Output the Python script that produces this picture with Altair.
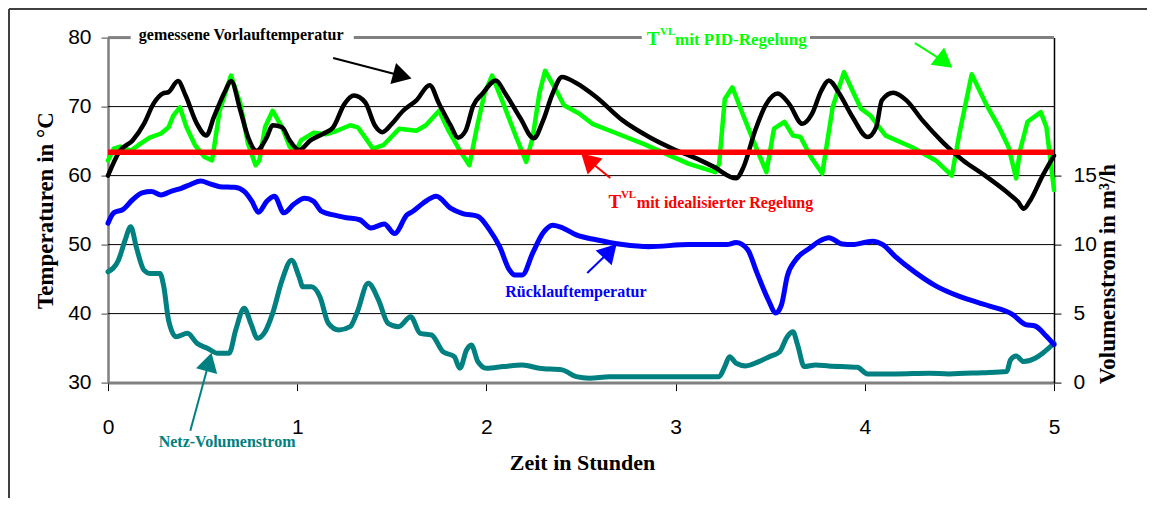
import altair as alt
import pandas as pd

# ---------------- data (hours, value) ----------------
vorlauf_gemessen = [
    (0.00, 60.0), (0.063, 63.6), (0.13, 65.1), (0.19, 67.5), (0.24, 70.4), (0.29, 71.9),
    (0.32, 72.1), (0.37, 73.7), (0.41, 71.6), (0.47, 67.5), (0.52, 65.8), (0.56, 68.5),
    (0.62, 72.3), (0.65, 73.7), (0.70, 69.4), (0.74, 65.6), (0.785, 63.6), (0.84, 65.6),
    (0.87, 67.3), (0.92, 67.0), (0.96, 65.1), (1.01, 63.7), (1.07, 65.1), (1.14, 66.1),
    (1.19, 67.0), (1.25, 70.4), (1.30, 71.6), (1.36, 70.6), (1.41, 67.3), (1.45, 66.3),
    (1.50, 67.5), (1.56, 69.4), (1.63, 70.9), (1.70, 73.1), (1.75, 70.4), (1.81, 67.3),
    (1.85, 65.5), (1.89, 66.5), (1.93, 70.1), (1.98, 71.9), (2.05, 73.8), (2.10, 71.9),
    (2.18, 68.3), (2.25, 65.4), (2.30, 68.0), (2.35, 71.9), (2.40, 74.3), (2.47, 73.5),
    (2.58, 71.4), (2.72, 68.0), (2.86, 65.6), (2.985, 63.9), (3.10, 62.6), (3.20, 61.3),
    (3.32, 59.6), (3.36, 61.3), (3.42, 66.5), (3.48, 70.4), (3.54, 71.9), (3.60, 70.4),
    (3.67, 67.5), (3.72, 68.9), (3.77, 72.3), (3.81, 73.8), (3.865, 71.9), (3.935, 68.5),
    (4.015, 65.6), (4.06, 67.0), (4.09, 70.9), (4.15, 72.0), (4.22, 70.9), (4.305, 68.0),
    (4.41, 64.9), (4.52, 62.2), (4.62, 60.3), (4.76, 57.4), (4.81, 56.2), (4.84, 55.2),
    (4.87, 56.2), (4.94, 60.0), (5.00, 62.9),
]

vorlauf_pid = [
    (0.00, 62.2), (0.03, 63.9), (0.065, 64.2), (0.12, 63.6), (0.17, 64.6), (0.22, 65.5),
    (0.28, 66.1), (0.32, 67.0), (0.345, 68.7), (0.38, 69.9), (0.415, 67.0), (0.46, 64.4),
    (0.51, 62.7), (0.55, 62.2), (0.59, 69.4), (0.65, 74.5), (0.70, 70.4), (0.74, 64.6),
    (0.78, 61.5), (0.80, 62.2), (0.83, 67.0), (0.87, 69.4), (0.92, 67.0), (0.96, 64.2),
    (0.99, 63.4), (1.02, 65.1), (1.085, 66.2), (1.155, 66.0), (1.21, 66.5), (1.28, 67.3),
    (1.32, 67.0), (1.37, 65.1), (1.40, 63.9), (1.455, 64.4), (1.54, 66.8), (1.63, 66.5),
    (1.68, 67.3), (1.75, 69.4), (1.80, 66.5), (1.86, 63.6), (1.91, 61.5), (1.95, 67.0),
    (1.99, 71.9), (2.03, 74.5), (2.09, 70.4), (2.15, 66.1), (2.21, 62.0), (2.245, 65.6),
    (2.28, 71.9), (2.31, 75.2), (2.37, 72.3), (2.41, 70.2), (2.49, 69.0), (2.56, 67.5),
    (2.69, 66.1), (2.83, 64.6), (2.97, 62.9), (3.07, 61.7), (3.21, 60.5), (3.23, 61.7),
    (3.26, 71.1), (3.30, 72.8), (3.355, 68.9), (3.425, 64.1), (3.48, 60.5), (3.52, 66.8),
    (3.575, 67.8), (3.62, 65.8), (3.66, 65.6), (3.715, 62.7), (3.775, 60.3), (3.83, 69.9),
    (3.89, 75.0), (3.935, 72.3), (3.98, 69.7), (4.03, 68.7), (4.11, 65.8), (4.25, 64.1),
    (4.375, 62.2), (4.46, 60.0), (4.50, 66.1), (4.565, 74.7), (4.64, 70.4), (4.71, 67.0),
    (4.76, 64.1), (4.80, 59.6), (4.82, 63.6), (4.86, 67.8), (4.93, 69.2), (4.96, 67.0),
    (5.00, 57.9),
]

vorlauf_ideal = 63.4

ruecklauf = [
    (0.00, 53.1), (0.03, 54.6), (0.08, 55.1), (0.13, 56.5), (0.18, 57.5), (0.23, 57.7),
    (0.28, 57.2), (0.34, 57.8), (0.39, 58.2), (0.435, 58.7), (0.49, 59.2), (0.54, 58.8),
    (0.59, 58.4), (0.67, 58.3), (0.72, 57.7), (0.76, 56.3), (0.795, 54.7), (0.84, 56.3),
    (0.88, 57.0), (0.93, 54.6), (0.98, 55.8), (1.04, 56.7), (1.085, 56.3), (1.13, 54.8),
    (1.19, 54.3), (1.26, 53.9), (1.33, 53.6), (1.39, 52.4), (1.46, 53.0), (1.515, 51.6),
    (1.58, 54.3), (1.61, 54.8), (1.665, 56.0), (1.735, 57.0), (1.81, 55.3), (1.875, 54.5),
    (1.955, 54.1), (2.015, 52.2), (2.07, 49.7), (2.12, 46.4), (2.15, 45.6), (2.19, 45.6),
    (2.245, 48.8), (2.30, 51.7), (2.35, 52.8), (2.405, 52.4), (2.475, 51.4), (2.58, 50.7),
    (2.72, 50.0), (2.86, 49.7), (3.07, 50.0), (3.27, 50.0), (3.32, 50.3), (3.38, 49.3),
    (3.43, 45.9), (3.49, 42.0), (3.53, 40.1), (3.56, 41.3), (3.59, 45.4), (3.635, 47.8),
    (3.71, 49.5), (3.76, 50.5), (3.81, 51.0), (3.88, 50.1), (3.935, 50.0), (4.04, 50.5),
    (4.095, 50.0), (4.16, 48.3), (4.27, 45.9), (4.37, 44.1), (4.50, 42.5), (4.60, 41.6),
    (4.66, 41.1), (4.78, 39.9), (4.85, 38.4), (4.90, 38.2), (4.96, 36.7), (5.00, 35.5),
]

netz_volumenstrom = [
    (0.00, 8.03), (0.055, 8.87), (0.09, 10.3), (0.12, 11.3), (0.15, 9.8), (0.19, 8.15),
    (0.225, 7.9), (0.275, 7.9), (0.295, 6.94), (0.32, 4.53), (0.36, 3.33), (0.42, 3.57),
    (0.47, 2.85), (0.525, 2.49), (0.58, 2.13), (0.64, 2.13), (0.675, 3.81), (0.72, 5.38),
    (0.755, 4.29), (0.79, 3.21), (0.83, 3.69), (0.87, 5.02), (0.92, 7.43), (0.97, 8.87),
    (1.01, 7.66), (1.03, 6.94), (1.075, 6.94), (1.12, 6.22), (1.165, 4.29), (1.22, 3.81),
    (1.28, 4.05), (1.315, 5.02), (1.375, 7.19), (1.43, 5.98), (1.48, 4.29), (1.535, 4.05),
    (1.60, 4.77), (1.65, 3.57), (1.71, 3.45), (1.77, 2.24), (1.83, 1.88), (1.86, 1.04),
    (1.895, 2.36), (1.92, 2.73), (1.955, 1.52), (2.00, 1.04), (2.09, 1.16), (2.19, 1.28),
    (2.28, 1.04), (2.40, 0.92), (2.475, 0.43), (2.545, 0.32), (2.65, 0.43), (3.07, 0.43),
    (3.23, 0.43), (3.26, 1.16), (3.285, 1.88), (3.32, 1.40), (3.37, 1.21), (3.44, 1.52),
    (3.495, 1.88), (3.55, 2.24), (3.59, 3.33), (3.62, 3.69), (3.645, 2.73), (3.68, 1.16),
    (3.74, 1.28), (3.81, 1.21), (3.96, 1.11), (4.015, 0.63), (4.165, 0.63), (4.34, 0.68),
    (4.445, 0.63), (4.62, 0.72), (4.75, 0.80), (4.77, 1.64), (4.80, 1.93), (4.84, 1.52),
    (4.90, 1.76), (4.94, 2.13), (5.00, 2.85),
]

x_ticks = [0, 1, 2, 3, 4, 5]
temp_ticks = [30, 40, 50, 60, 70, 80]
vol_ticks = [0, 5, 10, 15]
grid_temps = [40, 50, 60, 70]

# ---------------- annotation layout ----------------
top_line_segments = [(0.0, 0.12), (1.299, 2.821), (3.71, 5.0)]
labels = [
    ("gemessene Vorlauftemperatur", 0.163, 79.58, "#000000", 16),
    ("T", 2.848, 78.93, "#00FF00", 19),
    ("VL", 2.918, 80.38, "#00FF00", 11),
    ("mit PID-Regelung", 2.997, 78.93, "#00FF00", 17),
    ("T", 2.645, 55.27, "#FF0000", 19),
    ("VL", 2.711, 56.72, "#FF0000", 11),
    ("mit idealisierter Regelung", 2.795, 55.27, "#FF0000", 16),
    ("Rücklauftemperatur", 2.100, 42.34, "#0000FF", 16),
    ("Netz-Volumenstrom", 0.268, 20.61, "#008080", 16),
]
arrows = [  # tail h, tail T, head h, head T, head angle, colour
    (1.19, 77.05, 1.556, 74.44, 105, "#000000"),
    (4.265, 79.2, 4.423, 76.46, 128, "#00FF00"),
    (2.655, 59.66, 2.538, 62.27, 313, "#FF0000"),
    (2.533, 45.89, 2.654, 49.08, 43, "#0000FF"),
    (0.435, 23.02, 0.534, 33.0, 15, "#008080"),
]

# ---------------- build ----------------
def tbl(points, col="T"):
    return pd.DataFrame(points, columns=["h", col])

xs = alt.Scale(domain=[0, 5], nice=False, zero=False)
ts = alt.Scale(domain=[30, 80], nice=False, zero=False)
vs = alt.Scale(domain=[0, 25], nice=False, zero=False)

X0 = alt.X("h:Q", scale=xs, axis=None)
T0 = alt.Y("T:Q", scale=ts, axis=None)

x_axis = alt.Axis(values=x_ticks, format="d", title="Zeit in Stunden", grid=False,
                  domainColor="#808080", domainWidth=3, tickColor="#000000", tickSize=8,
                  tickWidth=1, labelFont="Liberation Sans", labelFontSize=21,
                  labelColor="#000000", labelPadding=26, labelFlush=False, labelOverlap=False,
                  titleFont="Liberation Serif", titleFontSize=22, titleFontWeight="bold",
                  titleColor="#000000", titleX=474, titleY=80, titleAlign="center",
                  titleBaseline="middle")
t_axis = alt.Axis(values=temp_ticks, format="d", title="Temperaturen in °C", orient="left",
                  grid=False, domainColor="#808080", domainWidth=2.5, tickColor="#404040",
                  tickSize=7, tickWidth=1, labelFont="Liberation Sans", labelFontSize=21,
                  labelColor="#000000", labelPadding=10, labelOverlap=False, labelFlush=False,
                  titleFont="Liberation Serif", titleFontSize=23, titleFontWeight="bold",
                  titleColor="#000000", titleAngle=270, titleX=-63, titleY=172.5,
                  titleAlign="center", titleBaseline="middle")
v_axis = alt.Axis(values=vol_ticks, format="d", title="Volumenstrom in m³/h", orient="right",
                  grid=False, domainColor="#000000", domainWidth=1.5, tickColor="#000000",
                  tickSize=7, tickWidth=1, labelFont="Liberation Sans", labelFontSize=21,
                  labelColor="#000000", labelPadding=12, labelOverlap=False, labelFlush=False,
                  titleFont="Liberation Serif", titleFontSize=23, titleFontWeight="bold",
                  titleColor="#000000", titleAngle=270, titleX=54, titleY=236,
                  titleAlign="center", titleBaseline="middle")

grid = alt.Chart(pd.DataFrame({"T": grid_temps})).mark_rule(
    color="#000000", strokeWidth=1).encode(y=T0)

top_line = alt.Chart(pd.DataFrame(
    [(a, b, 80) for a, b in top_line_segments], columns=["h", "h2", "T"])).mark_rule(
    color="#808080", strokeWidth=3).encode(x=X0, x2="h2:Q", y=T0)

def series(points, color, width, interp):
    return alt.Chart(tbl(points)).mark_line(
        color=color, strokeWidth=width, interpolate=interp,
        strokeJoin="round", strokeCap="round").encode(x=X0, y=T0)

blue = series(ruecklauf, "#0000FF", 5, "monotone")
green = series(vorlauf_pid, "#00FF00", 4.5, "linear")
black = alt.Chart(tbl(vorlauf_gemessen)).mark_line(
    color="#000000", strokeWidth=4.5, interpolate="monotone",
    strokeJoin="round", strokeCap="round").encode(
    x=alt.X("h:Q", scale=xs, axis=x_axis), y=alt.Y("T:Q", scale=ts, axis=t_axis))

arrow_df = pd.DataFrame(arrows, columns=["h", "T", "h2", "T2", "ang", "col"])

def heads(df):
    return alt.Chart(df).mark_point(
        shape="triangle-up", filled=True, opacity=1, size=480, strokeWidth=0).encode(
        x=alt.X("h2:Q", scale=xs, axis=None), y=alt.Y("T2:Q", scale=ts, axis=None),
        angle=alt.Angle("ang:Q", scale=None), color=alt.Color("col:N", scale=None))

arrow_heads_red = heads(arrow_df.iloc[[2]])
arrow_heads = heads(arrow_df.drop(index=2))
red = alt.Chart(pd.DataFrame({"T": [vorlauf_ideal]})).mark_rule(
    color="#FF0000", strokeWidth=5.5).encode(y=T0)

arrow_lines = alt.Chart(arrow_df).mark_rule(strokeWidth=2).encode(
    x=X0, y=T0, x2="h2:Q", y2="T2:Q", color=alt.Color("col:N", scale=None))

texts = alt.Chart(pd.DataFrame(labels, columns=["txt", "h", "T", "col", "fs"])).mark_text(
    font="Liberation Serif", fontWeight="bold", align="left", baseline="alphabetic").encode(
    x=X0, y=T0, text="txt:N", color=alt.Color("col:N", scale=None),
    size=alt.Size("fs:Q", scale=None))

frame_top = alt.Chart(pd.DataFrame({"a": [0]})).mark_rule(
    color="#404040", strokeWidth=2).encode(
    x=alt.value(-99), x2=alt.value(1039), y=alt.value(-28.6))
frame_left = alt.Chart(pd.DataFrame({"a": [0]})).mark_rule(
    color="#404040", strokeWidth=2).encode(
    x=alt.value(-99), y=alt.value(-28.6), y2=alt.value(470))

teal = alt.Chart(tbl(netz_volumenstrom, "V")).mark_line(
    color="#008080", strokeWidth=5, interpolate="monotone",
    strokeJoin="round", strokeCap="round").encode(
    x=X0, y=alt.Y("V:Q", scale=vs, axis=v_axis))

chart = alt.layer(
    grid, top_line, teal, blue, green, black, arrow_heads_red, red,
    arrow_lines, arrow_heads, texts, frame_top, frame_left,
).resolve_scale(y="independent").resolve_axis(x="independent", y="independent").properties(
    width=946, height=345,
    padding={"left": 100, "top": 29.6, "right": 93, "bottom": 115},
    autosize=alt.AutoSizeParams(type="none"),
    background="#FFFFFF",
).configure_view(stroke=None)

chart.save("out.html", embed_options={"renderer": "svg", "actions": False})
